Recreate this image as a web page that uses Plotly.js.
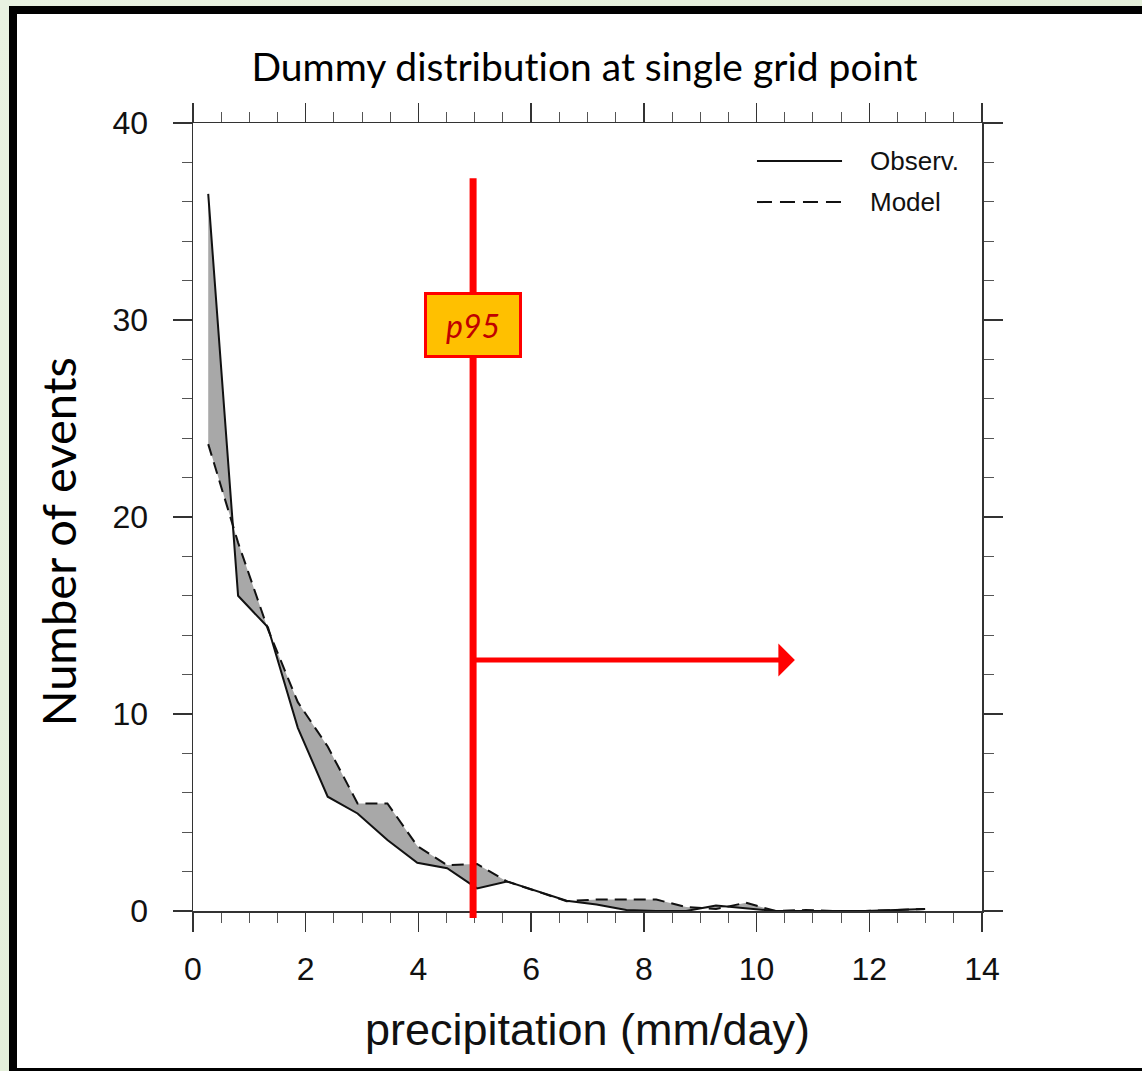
<!DOCTYPE html>
<html>
<head>
<meta charset="utf-8">
<script src="https://cdn.plot.ly/plotly-3.0.1.min.js"></script>
<style>
  html, body { margin: 0; padding: 0; }
  #outer { position: relative; width: 1142px; height: 1071px; overflow: hidden;
           background: linear-gradient(135deg, #e9f2e1, #dfecd4); }
  #frame { position: absolute; left: 9px; top: 6px; width: 1133px; height: 1065px; box-sizing: border-box;
           background: #ffffff; border-left: 8px solid #000; border-top: 8px solid #000; border-bottom: 3px solid #000; }
  #chart { position: absolute; left: 0; top: 0; width: 1125px; height: 1054px; }
  #chart svg text { font-variant-ligatures: none !important; font-feature-settings: "liga" 0, "clig" 0, "dlig" 0 !important; }
</style>
</head>
<body>
<div id="outer"><div id="frame"><div id="chart"></div></div></div>
<script>
// ---- data ----
const binCenters = [0.27, 0.80, 1.33, 1.86, 2.39, 2.92, 3.45, 3.98, 4.51, 5.04, 5.57, 6.10, 6.63,
                    7.16, 7.69, 8.22, 8.75, 9.28, 9.81, 10.34, 10.87, 11.40, 11.93, 12.46, 12.99];
const observed = [36.4, 16.0, 14.4, 9.3, 5.8, 4.95, 3.6, 2.45, 2.17, 1.15, 1.5, 1.0, 0.52,
                  0.33, 0.05, 0.0, 0.0, 0.28, 0.15, 0.0, 0.0, 0.0, 0.0, 0.05, 0.1];
const model    = [23.7, 18.7, 14.3, 10.6, 8.35, 5.46, 5.46, 3.3, 2.33, 2.39, 1.5, 1.0, 0.5,
                  0.58, 0.58, 0.58, 0.2, 0.1, 0.42, 0.0, 0.05, 0.0, 0.0, 0.05, 0.1];
const seriesNames = ["Observ.", "Model"];
const xTickVals = [0, 2, 4, 6, 8, 10, 12, 14];
const yTickVals = [0, 10, 20, 30, 40];
const p95Value = 4.97;
const arrowLevel = 12.74;
const arrowEnd = 10.68;

const tickFont = {family: "Liberation Sans, Arial, sans-serif", size: 32, color: "#111"};

const traces = [
  {x: binCenters, y: observed, name: seriesNames[0], type: "scatter", mode: "lines",
   line: {color: "#111", width: 2}, showlegend: false},
  {x: binCenters, y: model, name: seriesNames[1], type: "scatter", mode: "lines",
   line: {color: "#111", width: 2, dash: "12px,7px"}, fill: "tonexty", fillcolor: "#a8a8a8",
   showlegend: false}
];

function axisCommon() {
  return {
    ticks: "outside", ticklen: 19, tickwidth: 1.5, tickcolor: "#333",
    showline: true, linecolor: "#333", linewidth: 1.5, mirror: "allticks",
    showgrid: false, zeroline: false, tickfont: tickFont,
    fixedrange: true
  };
}

const layout = {
  width: 1125, height: 1054,
  margin: {l: 176, r: 160, t: 109, b: 157},
  paper_bgcolor: "#ffffff", plot_bgcolor: "#ffffff",
  showlegend: false,
  title: {text: "Dummy distribution at single grid point", xref: "container", x: 0.5044,
          xanchor: "center", yref: "container", y: 0.9497, yanchor: "middle",
          font: {family: "Lato, Open Sans, sans-serif", size: 39, color: "#000"}},
  xaxis: Object.assign(axisCommon(), {
    range: [0, 14], tickvals: xTickVals, ticktext: xTickVals.map(String), ticklabelstandoff: 10,
    minor: {dtick: 0.5, tick0: 0, ticks: "outside", ticklen: 10, tickwidth: 1, tickcolor: "#555", showgrid: false},
    title: {text: "precipitation (mm/day)", standoff: 27,
            font: {family: "Liberation Sans, Arial, sans-serif", size: 45, color: "#111"}}
  }),
  yaxis: Object.assign(axisCommon(), {
    range: [0, 40], tickvals: yTickVals, ticktext: yTickVals.map(String), ticklabelstandoff: 18,
    minor: {dtick: 2, tick0: 0, ticks: "outside", ticklen: 10, tickwidth: 1, tickcolor: "#555", showgrid: false}
  }),
  shapes: [
    // p95 vertical marker
    {type: "line", xref: "x", yref: "paper", x0: p95Value, x1: p95Value, y0: -0.009, y1: 0.930,
     line: {color: "#ff0000", width: 7}, layer: "above"},
    // manual legend samples
    {type: "line", xref: "paper", yref: "paper", x0: 0.7148, x1: 0.8226, y0: 0.9518, y1: 0.9518,
     line: {color: "#111", width: 2}},
    {type: "line", xref: "paper", yref: "paper", x0: 0.7148, x1: 0.8226, y0: 0.8997, y1: 0.8997,
     line: {color: "#111", width: 2, dash: "15px,8px"}}
  ],
  annotations: [
    {xref: "paper", yref: "paper", x: -0.171, y: 0.468, text: "Number of events", textangle: -90,
     showarrow: false, xanchor: "center", yanchor: "middle",
     font: {family: "Lato, Open Sans, sans-serif", size: 47, color: "#000"}},
    {xref: "paper", yref: "paper", x: 0.8555, y: 0.9518, text: seriesNames[0], showarrow: false,
     xanchor: "left", yanchor: "middle", font: {family: "Liberation Sans, Arial, sans-serif", size: 26, color: "#111"}},
    {xref: "paper", yref: "paper", x: 0.8555, y: 0.8997, text: seriesNames[1], showarrow: false,
     xanchor: "left", yanchor: "middle", font: {family: "Liberation Sans, Arial, sans-serif", size: 26, color: "#111"}},
    // arrow to the right of p95
    {xref: "x", yref: "y", axref: "x", ayref: "y", x: arrowEnd, y: arrowLevel, ax: p95Value, ay: arrowLevel,
     text: "", showarrow: true, arrowhead: 1, arrowsize: 1.1, arrowwidth: 5, arrowcolor: "#ff0000"},
    // p95 label box
    {xref: "x", yref: "y", x: p95Value, y: 29.75, text: "<i>p95</i>", showarrow: false,
     xanchor: "center", yanchor: "middle", width: 90, height: 58, borderpad: 1, borderwidth: 3,
     bordercolor: "#ff0000", bgcolor: "#ffc000",
     font: {family: "Lato, Open Sans, sans-serif", size: 32, color: "#c00000"}}
  ]
};

Plotly.newPlot("chart", traces, layout, {displayModeBar: false, staticPlot: true});
</script>
</body>
</html>
